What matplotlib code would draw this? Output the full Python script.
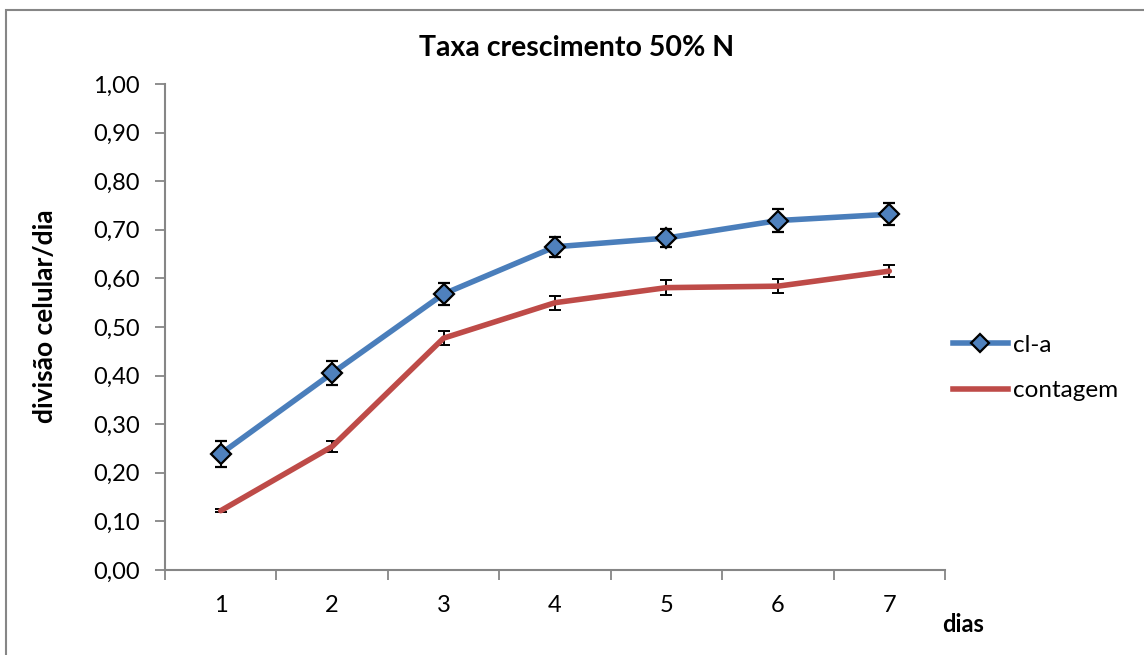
import matplotlib
matplotlib.use("Agg")
import matplotlib.pyplot as plt
from matplotlib.patches import Rectangle
from matplotlib.lines import Line2D

plt.rcParams['font.family'] = ['Lato', 'DejaVu Sans']

dias = [1, 2, 3, 4, 5, 6, 7]
cla = [0.239, 0.405, 0.568, 0.665, 0.683, 0.719, 0.732]
cla_err = [0.027, 0.025, 0.022, 0.020, 0.019, 0.023, 0.023]
contagem = [0.122, 0.254, 0.477, 0.550, 0.581, 0.584, 0.615]
contagem_err = [0.003, 0.012, 0.014, 0.014, 0.015, 0.014, 0.012]
yticks = [0.0, 0.1, 0.2, 0.3, 0.4, 0.5, 0.6, 0.7, 0.8, 0.9, 1.0]

blue = '#4A7EBB'
red = '#BE4B48'
grey = '#868686'

fig = plt.figure(figsize=(11.44, 6.55), dpi=100)
W, H = 1144, 655

# chart-area border
fig.patches.append(Rectangle((6 / W, -0.05), 1.2, 1 - 10 / H + 0.05,
                             transform=fig.transFigure, fill=False,
                             edgecolor=grey, linewidth=1.5))

ax = fig.add_axes([165 / W, 1 - 570 / H, 780 / W, 486 / H])

ax.errorbar(dias, contagem, yerr=contagem_err, color=red, linewidth=4.0,
            ecolor='black', elinewidth=1.4, capsize=4.5, capthick=1.4,
            solid_capstyle='round', zorder=3)
ax.errorbar(dias, cla, yerr=cla_err, color=blue, linewidth=4.0,
            marker='D', markersize=10, markerfacecolor='#4F81BD',
            markeredgecolor='black', markeredgewidth=1.6,
            ecolor='black', elinewidth=1.4, capsize=4.5, capthick=1.4,
            solid_capstyle='round', zorder=4)

ax.set_xlim(0.5, 7.5)
ax.set_ylim(0, 1.0)
ax.set_yticks(yticks)
ax.set_yticklabels([f'{v:.2f}'.replace('.', ',') for v in yticks])
ax.set_xticks(dias)
ax.set_xticklabels([str(d) for d in dias])
ax.set_xticks([0.5 + i for i in range(8)], minor=True)
ax.tick_params(axis='x', which='major', length=0, pad=18, labelsize=17)
ax.tick_params(axis='x', which='minor', length=7, width=1.3, color=grey)
ax.tick_params(axis='y', length=7, width=1.3, color=grey, pad=11, labelsize=17)

for s in ['top', 'right']:
    ax.spines[s].set_visible(False)
for s in ['left', 'bottom']:
    ax.spines[s].set_color(grey)
    ax.spines[s].set_linewidth(1.5)

fig.text(577 / W, 1 - 48 / H, 'Taxa crescimento 50% N', ha='center',
         va='center', fontsize=20.5, fontweight='bold')
fig.text(45 / W, 1 - 316 / H, 'divisão celular/dia', ha='center',
         va='center', rotation=90, fontsize=19, fontweight='bold')
fig.text(963 / W, 1 - 624 / H, 'dias', ha='center', va='center',
         fontsize=17, fontweight='bold')

handles = [
    Line2D([], [], color=blue, linewidth=4.0, marker='D', markersize=9,
           markerfacecolor='#4F81BD', markeredgecolor='black',
           markeredgewidth=1.6),
    Line2D([], [], color=red, linewidth=4.0),
]
fig.legend(handles, ['cl-a', 'contagem'], loc='center left',
           bbox_to_anchor=(953 / W, 1 - 368 / H), frameon=False,
           fontsize=17.5, handlelength=2.25, handletextpad=0.2,
           labelspacing=1.0, borderpad=0, borderaxespad=0)

fig.savefig('out.png', dpi=100)
